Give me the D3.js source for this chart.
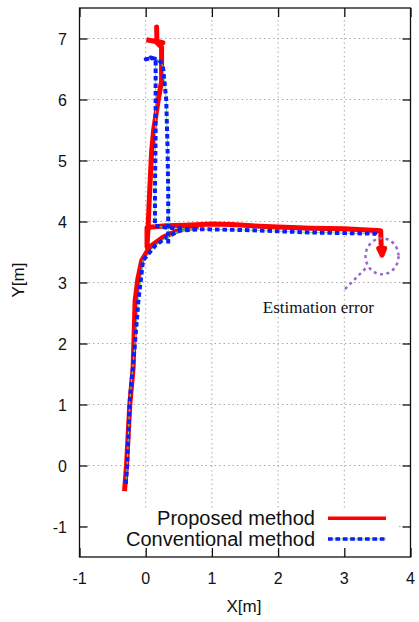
<!DOCTYPE html>
<html>
<head>
<meta charset="utf-8">
<script src="https://cdn.jsdelivr.net/npm/d3@7"></script>
<style>
  body { margin: 0; background: #fff; }
  svg { display: block; }
</style>
</head>
<body>
<div id="chart"></div>
<script>
// tick labels
var xTicks = [-1, 0, 1, 2, 3, 4];
var yTicks = [-1, 0, 1, 2, 3, 4, 5, 6, 7];

// trajectory legs [x, y] in metres
var proposedBottom = [[-0.32,-0.42],[-0.29,0],[-0.24,1],[-0.19,1.6],[-0.16,2.7],[-0.12,3.05],[-0.06,3.36],[0.06,3.58],[0.26,3.74],[0.52,3.87],[0.8,3.91]];
var proposedMain = [[0.01,6.98],[0.26,6.93],[0.17,6.95],[0.165,7.19],[0.17,6.93],[0.24,6.86],[0.24,6.3],[0.19,6.0],[0.12,5.5],[0.09,5.16],[0.06,4.5],[0.04,4.0],[0.02,3.58],[0.02,3.9],[0.3,3.93],[0.6,3.94],[1.0,3.96],[1.3,3.95],[1.6,3.93],[2.0,3.91],[2.5,3.89],[3.0,3.88],[3.55,3.85],[3.56,3.5],[3.52,3.56],[3.57,3.45],[3.61,3.56],[3.56,3.52]];
var conventionalBottom = [[-0.3,-0.3],[-0.28,0],[-0.24,1.07],[-0.17,1.9],[-0.11,2.7],[-0.04,3.36],[0.14,3.6],[0.31,3.74],[0.52,3.85],[0.8,3.87]];
var conventionalMain = [[0.34,3.64],[0.34,4.5],[0.33,5.2],[0.31,6.0],[0.26,6.55],[0.2,6.65],[0.1,6.68],[0.0,6.66],[0.08,6.69],[0.15,6.63],[0.15,5.5],[0.14,4.5],[0.14,3.93],[0.3,3.9],[0.6,3.88],[1.0,3.87],[1.5,3.86],[2.0,3.84],[2.5,3.82],[3.0,3.81],[3.47,3.8],[3.5,3.77]];

var seriesNames = ["Proposed method", "Conventional method"];

var W = 419, H = 622;
var svg = d3.select("#chart").append("svg").attr("width", W).attr("height", H);

var x = d3.scaleLinear().domain([-1, 4]).range([79.5, 410.5]);
var y = d3.scaleLinear().domain([-1.5, 7.5]).range([557, 8]);

// grid
var grid = svg.append("g").attr("stroke", "#aaa").attr("stroke-width", 1).attr("stroke-dasharray", "1.5,3");
grid.selectAll(".gx").data(xTicks.slice(1, -1)).enter().append("line")
  .attr("x1", function(d){ return x(d); }).attr("x2", function(d){ return x(d); })
  .attr("y1", y(-1.5)).attr("y2", y(7.5));
grid.selectAll(".gy").data(yTicks).enter().append("line")
  .attr("y1", function(d){ return y(d); }).attr("y2", function(d){ return y(d); })
  .attr("x1", x(-1)).attr("x2", x(4));

// data lines
var line = d3.line().x(function(d){ return x(d[0]); }).y(function(d){ return y(d[1]); });
var plot = svg.append("g").attr("fill", "none").attr("stroke-linejoin", "round");

[proposedBottom, proposedMain].forEach(function(leg){
  plot.append("path").attr("d", line(leg)).attr("stroke", "#ff0000").attr("stroke-width", 5);
});
[conventionalBottom, conventionalMain].forEach(function(leg){
  plot.append("path").attr("d", line(leg)).attr("stroke", "#66dd66").attr("stroke-width", 1);
  plot.append("path").attr("d", line(leg)).attr("stroke", "#0a1eff").attr("stroke-width", 4)
    .attr("stroke-dasharray", "4.5,3");
});

// annotation: estimation error
var anno = svg.append("g").attr("fill", "none").attr("stroke", "#9966cc").attr("stroke-width", 2.5)
  .attr("stroke-dasharray", "3,3.5");
anno.append("ellipse").attr("cx", x(3.57)).attr("cy", y(3.43)).attr("rx", 16.5).attr("ry", 18);
anno.append("line").attr("x1", x(3.32)).attr("y1", y(3.23)).attr("x2", x(2.99)).attr("y2", y(2.87));
svg.append("text").attr("x", x(1.77)).attr("y", 313)
  .attr("font-family", "'Liberation Serif', 'Times New Roman', serif").attr("font-size", 17)
  .attr("fill", "#111").text("Estimation error");

// legend (opaque key box)
svg.append("rect").attr("x", 88).attr("y", 508).attr("width", 310).attr("height", 40).attr("fill", "#fff");
var lg = svg.append("g").attr("font-family", "'Liberation Sans', Arial, sans-serif").attr("font-size", 20)
  .attr("fill", "#111").attr("text-anchor", "end");
lg.append("text").attr("x", 315).attr("y", 525).text(seriesNames[0]);
lg.append("text").attr("x", 315).attr("y", 545.5).text(seriesNames[1]);
svg.append("line").attr("x1", 328).attr("x2", 386).attr("y1", 518.3).attr("y2", 518.3)
  .attr("stroke", "#ff0000").attr("stroke-width", 3.5);
svg.append("line").attr("x1", 328).attr("x2", 386).attr("y1", 539).attr("y2", 539)
  .attr("stroke", "#66dd66").attr("stroke-width", 1);
svg.append("line").attr("x1", 328).attr("x2", 386).attr("y1", 539).attr("y2", 539)
  .attr("stroke", "#0a1eff").attr("stroke-width", 3.5).attr("stroke-dasharray", "4.7,2.7");

// frame and mirrored inward ticks
var fr = svg.append("g").attr("stroke", "#111").attr("stroke-width", 1.3);
fr.append("rect").attr("x", x(-1)).attr("y", y(7.5)).attr("width", x(4) - x(-1)).attr("height", y(-1.5) - y(7.5))
  .attr("fill", "none");
var axL = d3.axisLeft(y).tickValues(yTicks).tickSize(-8).tickFormat("");
var axR = d3.axisRight(y).tickValues(yTicks).tickSize(-8).tickFormat("");
var axB = d3.axisBottom(x).tickValues(xTicks).tickSize(-9).tickFormat("");
var axT = d3.axisTop(x).tickValues(xTicks).tickSize(-9).tickFormat("");
[[axL, "translate(" + x(-1) + ",0)"], [axR, "translate(" + x(4) + ",0)"],
 [axB, "translate(0," + y(-1.5) + ")"], [axT, "translate(0," + y(7.5) + ")"]].forEach(function(a){
  var g = svg.append("g").attr("transform", a[1]).call(a[0]);
  g.select(".domain").remove();
  g.selectAll("line").attr("stroke", "#111").attr("stroke-width", 1.3);
});

// tick labels
var tl = svg.append("g").attr("font-family", "'Liberation Sans', Arial, sans-serif").attr("font-size", 16)
  .attr("fill", "#111");
tl.selectAll(".ly").data(yTicks).enter().append("text")
  .attr("x", 67).attr("y", function(d){ return y(d) + 6; }).attr("text-anchor", "end")
  .text(function(d){ return d; });
tl.selectAll(".lx").data(xTicks).enter().append("text")
  .attr("x", function(d){ return x(d); }).attr("y", 584).attr("text-anchor", "middle")
  .text(function(d){ return d; });

// axis titles
svg.append("text").attr("x", 244).attr("y", 612).attr("text-anchor", "middle")
  .attr("font-family", "'Liberation Sans', Arial, sans-serif").attr("font-size", 17).attr("fill", "#111")
  .text("X[m]");
svg.append("text").attr("transform", "translate(24,280) rotate(-90)").attr("text-anchor", "middle")
  .attr("font-family", "'Liberation Sans', Arial, sans-serif").attr("font-size", 17).attr("fill", "#111")
  .text("Y[m]");
</script>
</body>
</html>
